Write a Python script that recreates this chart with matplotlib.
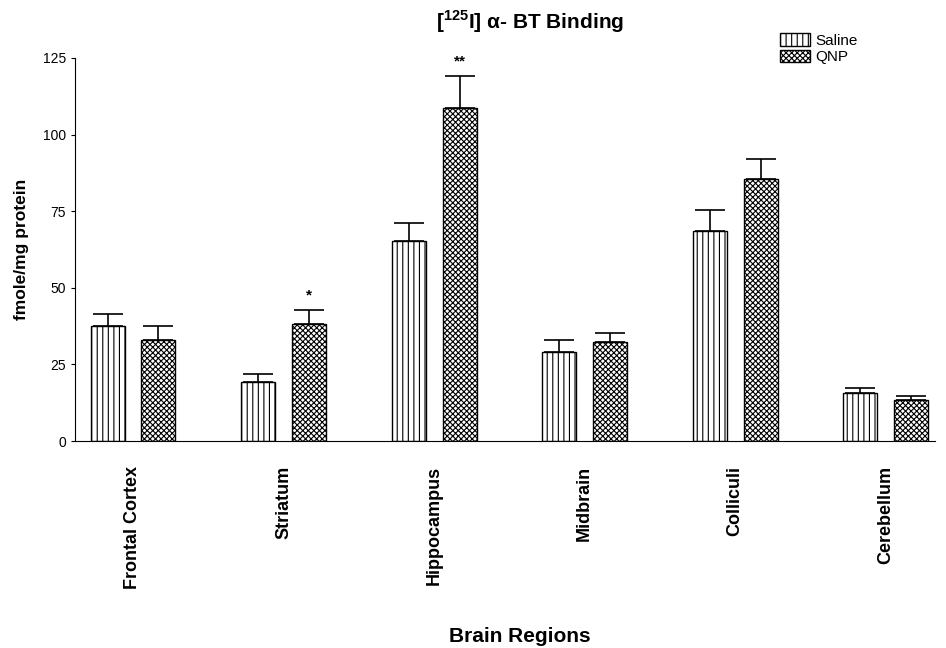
import matplotlib
matplotlib.use("Agg")
import matplotlib.pyplot as plt
import numpy as np

plt.rcParams['font.family'] = ['Liberation Sans', 'DejaVu Sans']
plt.rcParams['mathtext.fontset'] = 'custom'
plt.rcParams['mathtext.bf'] = 'Liberation Sans:bold'
plt.rcParams['mathtext.rm'] = 'Liberation Sans'
plt.rcParams['hatch.linewidth'] = 0.8

# data
regions = ['Frontal Cortex', 'Striatum', 'Hippocampus', 'Midbrain', 'Colliculi', 'Cerebellum']
saline = [37.5, 19.2, 65.2, 28.9, 68.4, 15.6]
saline_err = [4.0, 2.7, 6.0, 4.1, 7.0, 1.8]
qnp = [33.0, 38.3, 108.8, 32.4, 85.6, 13.5]
qnp_err = [4.5, 4.4, 10.4, 2.8, 6.4, 1.1]
stars = ['', '*', '**', '', '', '']

x = np.arange(len(regions))
w = 0.226
off = 0.169

fig = plt.figure(figsize=(9.46, 6.48), dpi=100)
ax = fig.add_axes([0.0793, 0.3194, 0.9087, 0.5911])

ax.bar(x - off, saline, w, color='white', edgecolor='black', hatch='|||', linewidth=1.0, label='Saline')
ax.bar(x + off, qnp, w, color='white', edgecolor='black', hatch='xxxxxx', linewidth=1.0, label='QNP')
ax.errorbar(x - off, saline, yerr=[np.zeros(len(saline)), saline_err], fmt='none',
            ecolor='black', elinewidth=1.2, capsize=11, capthick=1.2)
ax.errorbar(x + off, qnp, yerr=[np.zeros(len(qnp)), qnp_err], fmt='none',
            ecolor='black', elinewidth=1.2, capsize=11, capthick=1.2)

# significance marks
for i in range(len(regions)):
    if stars[i]:
        ax.text(x[i] + off, qnp[i] + qnp_err[i] + 2.5, stars[i], ha='center', va='bottom',
                fontsize=11, fontweight='bold')

ax.set_xlim(-0.385, 5.325)
ax.set_ylim(0, 125)
ax.set_yticks([0, 25, 50, 75, 100, 125])
ax.tick_params(axis='y', labelsize=10, length=3, direction='out')
ax.set_xticks(x)
ax.set_xticklabels(regions, rotation=90, fontsize=13, fontweight='bold')
ax.tick_params(axis='x', length=0, pad=18)
ax.spines['top'].set_visible(False)
ax.spines['right'].set_visible(False)

ax.set_ylabel('fmole/mg protein', fontsize=12.5, fontweight='bold', labelpad=10)
fig.text(0.55, 0.01, 'Brain Regions', ha='center', fontsize=15, fontweight='bold')
fig.text(0.56, 0.955, r'[$^{\mathbf{125}}$I] α- BT Binding', ha='center',
         fontsize=15, fontweight='bold')

ax.legend(loc='upper right', bbox_to_anchor=(0.926, 1.1), frameon=False, fontsize=11,
          handlelength=2.0, handleheight=0.9, handletextpad=0.3, labelspacing=0.1)

fig.savefig('out.png', dpi=100)
